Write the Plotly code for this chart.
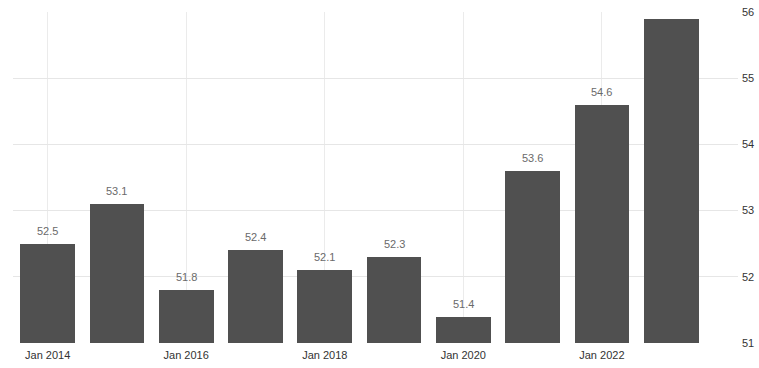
import plotly.graph_objects as go

years = [2014, 2015, 2016, 2017, 2018, 2019, 2020, 2021, 2022, 2023]
values = [52.5, 53.1, 51.8, 52.4, 52.1, 52.3, 51.4, 53.6, 54.6, 55.9]
labels = ["52.5", "53.1", "51.8", "52.4", "52.1", "52.3", "51.4", "53.6", "54.6", ""]
tick_years = [2014, 2016, 2018, 2020, 2022]
tick_text = ["Jan 2014", "Jan 2016", "Jan 2018", "Jan 2020", "Jan 2022"]
y_ticks = [51, 52, 53, 54, 55, 56]

fig = go.Figure()
fig.add_trace(go.Bar(x=years, y=values, width=0.79,
                     marker=dict(color="#505050", line=dict(width=0)),
                     hoverinfo="x+y"))

for x, v, t in zip(years, values, labels):
    if t:
        fig.add_annotation(x=x, y=v, text=t, showarrow=False, yanchor="bottom",
                           yshift=5, font=dict(size=11, color="#6a6a6a",
                                               family="Liberation Sans, Arial"))

fig.update_layout(
    width=759, height=368,
    margin=dict(l=13, r=21, t=12, b=25, autoexpand=False),
    paper_bgcolor="white", plot_bgcolor="white",
    showlegend=False,
    bargap=0,
    font=dict(family="Liberation Sans, Arial", size=11, color="#333333"),
    xaxis=dict(range=[2013.5, 2023.965], tickvals=tick_years, ticktext=tick_text,
               showgrid=True, gridcolor="#ebebeb", gridwidth=1, zeroline=False,
               showline=False, ticks="", automargin=False, ticklabelstandoff=4,
               tickfont=dict(size=11, color="#333333")),
    yaxis=dict(range=[51, 56], tickvals=y_ticks, side="right",
               showgrid=True, gridcolor="#e6e6e6", gridwidth=1, zeroline=False,
               showline=False, ticks="", automargin=False, ticklabelstandoff=3,
               tickfont=dict(size=11, color="#333333")),
)

fig.write_html("out.html", config={"displayModeBar": False},
               post_script="document.body.style.margin='0';document.body.style.overflow='hidden';")
